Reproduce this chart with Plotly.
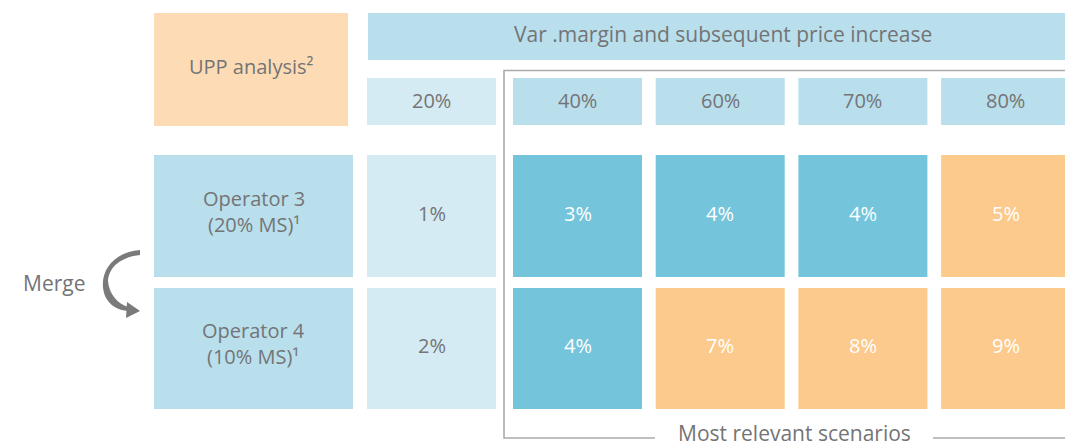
import plotly.graph_objects as go

# data
scenarios = ["20%", "40%", "60%", "70%", "80%"]
operators = ["Operator 3<br>(20% MS)¹", "Operator 4<br>(10% MS)¹"]
op3_upp = [1, 3, 4, 4, 5]
op4_upp = [2, 4, 7, 8, 9]
header_text = "Var .margin and subsequent price increase"
corner_text = "UPP analysis²"
merge_text = "Merge"
bracket_text = "Most relevant scenarios"

# colours
peach = "#FDDCB5"
header_blue = "#B9DFEC"
pale_blue = "#D4EBF3"
dark_blue = "#74C4DB"
orange = "#FCCA8C"
grey_txt = "#747476"
line_grey = "#ABABAB"
font = "Open Sans"

W, H = 1065, 446
fig = go.Figure()
shapes = []
annotations = []

def box(x0, y0, x1, y1, color):
    shapes.append(dict(type="rect", x0=x0, x1=x1, y0=y0, y1=y1, xref="x", yref="y",
                       fillcolor=color, line_width=0, layer="below"))

def label(x, y, text, color=grey_txt, size=20):
    annotations.append(dict(x=x, y=y, xref="x", yref="y", text=text, showarrow=False,
                            font=dict(family=font, size=size, color=color),
                            xanchor="center", yanchor="middle"))

# column layout
col_w = 129
col_x = [367] + [513 + 142.7 * i for i in range(4)]
row_y = [(155, 277), (288, 409)]
label_x = (154, 353)

# top-left box and header bar
box(154, 13, 348, 126, peach)
label(251, 66, corner_text, size=20)
box(368, 13, W, 60, header_blue)
label(723, 34, header_text, size=21)

# scenario headers
for i, s in enumerate(scenarios):
    x0 = col_x[i]
    box(x0, 78, x0 + col_w, 125, pale_blue if i == 0 else header_blue)
    label(x0 + col_w / 2, 100, s, size=20)

# operator rows
for r, (name, vals) in enumerate(zip(operators, [op3_upp, op4_upp])):
    y0, y1 = row_y[r]
    box(label_x[0], y0, label_x[1], y1, header_blue)
    label((label_x[0] + label_x[1]) / 2, (y0 + y1) / 2 - 5, name, size=20)
    for i, v in enumerate(vals):
        x0 = col_x[i]
        if i == 0:
            c, tc = pale_blue, grey_txt
        elif v > 4:
            c, tc = orange, "white"
        else:
            c, tc = dark_blue, "white"
        box(x0, y0, x0 + col_w, y1, c)
        label(x0 + col_w / 2, (y0 + y1) / 2 - 3, f"{v}%", color=tc, size=20)

# bracket around relevant scenarios
shapes.append(dict(type="path", path="M 1065,70.5 L 504,70.5 L 504,438 L 655,438",
                   line=dict(color=line_grey, width=1.6), xref="x", yref="y"))
shapes.append(dict(type="line", x0=933, x1=1065, y0=438, y1=438,
                   line=dict(color=line_grey, width=1.6), xref="x", yref="y"))
label(794, 433, bracket_text, size=21)

# merge arrow
label(54, 283, merge_text, size=21)
shapes.append(dict(type="path",
                   path="M 140,250 C 112,252 97,274 105,296 C 110,306 118,310 128,311 "
                        "L 128,307 C 118,304 109,294 108,281 C 109,266 122,257 140,255 Z",
                   fillcolor="#7A7A7A", line_width=0, xref="x", yref="y"))
shapes.append(dict(type="path", path="M 127,302 L 140,311 L 126,318 Z",
                   fillcolor="#7A7A7A", line_width=0, xref="x", yref="y"))

fig.update_layout(width=W, height=H, margin=dict(l=0, r=0, t=0, b=0),
                  paper_bgcolor="white", plot_bgcolor="white",
                  shapes=shapes, annotations=annotations, showlegend=False,
                  xaxis=dict(range=[0, W], visible=False, fixedrange=True),
                  yaxis=dict(range=[H, 0], visible=False, fixedrange=True))

# drop the default page margin so the figure sits at the window corner
fig.write_html("out.html", config={"displayModeBar": False},
               post_script="document.body.style.margin='0';")
